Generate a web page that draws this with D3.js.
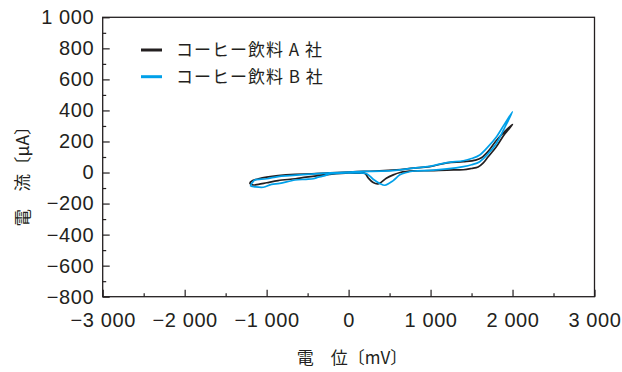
<!DOCTYPE html>
<html>
<head>
<meta charset="utf-8">
<script src="https://cdn.jsdelivr.net/npm/d3@7"></script>
<style>
  body { margin: 0; background: #fff; }
  svg text { fill: #231f20; }
</style>
</head>
<body>
<div id="container"></div>
<script>
// potential (mV) and current (uA), each loop starts at the left tip,
// runs along the upper branch to +2000 mV and back along the lower one
const potA = [-1205, -1170, -1100, -1000, -860, -650, -450, -230, 0, 180, 380, 585, 790, 990, 1200, 1400, 1550, 1620, 1700, 1800, 1900, 2000,
  1900, 1800, 1700, 1640, 1580, 1500, 1400, 1200, 1000, 800, 630, 545, 460, 400, 360, 300, 240, 200, 100, 0, -230, -370, -520, -650, -860, -1000, -1100, -1170];
const curA = [-69, -52, -41, -30, -20, -12, -9, -2, 3, 7, 10, 17, 28, 38, 62, 70, 80, 95, 135, 205, 262, 310,
  245, 165, 100, 60, 35, 26, 18, 16, 12, 10, 0, -15, -37, -62, -73, -65, -35, -6, -4, -3, -12, -20, -30, -40, -52, -66, -76, -80];

const potB = [-1195, -1170, -1143, -1000, -860, -716, -450, -230, 0, 200, 400, 600, 790, 990, 1200, 1400, 1500, 1600, 1700, 1805, 1900, 2000,
  1900, 1805, 1700, 1600, 1500, 1400, 1200, 1000, 800, 707, 626, 544, 443, 380, 300, 220, 100, 0, -230, -300, -370, -430, -520, -654, -840, -940, -1041, -1143];
const curB = [-86, -62, -48, -40, -26, -20, -10, -2, 3, 7, 9, 16, 28, 40, 64, 76, 90, 113, 165, 231, 310, 392,
  285, 189, 120, 70, 50, 38, 23, 14, 10, 0, -15, -52, -82, -70, -43, -8, -3, -2, -9, -22, -30, -40, -44, -48, -70, -76, -95, -92];

const seriesNames = ["コーヒー飲料 A 社", "コーヒー飲料 B 社"];
const seriesColors = ["#231f20", "#00a0e9"];

const xMajor = [-3000, -2000, -1000, 0, 1000, 2000, 3000];
const xMinor = [-2500, -1500, -500, 500, 1500, 2500];
const yMajor = [-800, -600, -400, -200, 0, 200, 400, 600, 800, 1000];
const yMinor = [-700, -500, -300, -100, 100, 300, 500, 700, 900];

const w = 622, h = 372;
const mLeft = 102.7, mRight = 594.5, mTop = 17.3, mBottom = 296.7;

const svg = d3.select("#container").append("svg")
  .attr("width", w).attr("height", h);

const x = d3.scaleLinear().domain([-3000, 3000]).range([mLeft, mRight]);
const y = d3.scaleLinear().domain([-800, 1000]).range([mBottom, mTop]);

// "1 000", "−3 000"
const fmt = d3.formatLocale({ decimal: ".", thousands: " ", grouping: [3], currency: ["", ""], minus: "\u2212" }).format(",d");
const tickFont = "'Liberation Sans', Arial, sans-serif";
const jpFont = "'Noto Sans CJK JP', sans-serif";

// frame
svg.append("rect")
  .attr("x", mLeft).attr("y", mTop)
  .attr("width", mRight - mLeft).attr("height", mBottom - mTop)
  .attr("fill", "none").attr("stroke", "#231f20").attr("stroke-width", 1.3);

svg.append("g")
  .attr("transform", "translate(0," + mBottom + ")")
  .call(d3.axisBottom(x).tickValues(xMajor).tickSize(-7).tickSizeOuter(0).tickPadding(16).tickFormat(fmt));
svg.append("g")
  .attr("transform", "translate(0," + mBottom + ")")
  .call(d3.axisBottom(x).tickValues(xMinor).tickSize(-3.5).tickSizeOuter(0).tickFormat(""));

svg.append("g")
  .attr("transform", "translate(" + mLeft + ",0)")
  .call(d3.axisLeft(y).tickValues(yMajor).tickSize(-7).tickSizeOuter(0).tickPadding(8.5).tickFormat(fmt));
svg.append("g")
  .attr("transform", "translate(" + mLeft + ",0)")
  .call(d3.axisLeft(y).tickValues(yMinor).tickSize(-3.5).tickSizeOuter(0).tickFormat(""));

svg.selectAll(".domain").remove();
svg.selectAll(".tick line").attr("stroke", "#231f20").attr("stroke-width", 1.2);
svg.selectAll(".tick text")
  .style("font-family", tickFont)
  .style("font-size", "20px")
  .style("letter-spacing", "0.6px")
  .attr("fill", "#231f20");

// curves
const line = d3.line()
  .x(d => x(d[0]))
  .y(d => y(d[1]))
  .curve(d3.curveCatmullRomClosed.alpha(0.5));

[[potA, curA], [potB, curB]].forEach((s, k) => {
  const pts = s[0].map((p, i) => [p, s[1][i]]);
  svg.append("path")
    .datum(pts)
    .attr("d", line)
    .attr("fill", "none")
    .attr("stroke", seriesColors[k])
    .attr("stroke-width", 1.7)
    .attr("stroke-linejoin", "round");
});

// legend
seriesNames.forEach((n, k) => {
  const ly = 50 + k * 26.7;
  svg.append("line")
    .attr("x1", 141).attr("x2", 162)
    .attr("y1", ly).attr("y2", ly)
    .attr("stroke", seriesColors[k]).attr("stroke-width", 3);
  svg.append("text")
    .attr("x", 176).attr("y", ly)
    .attr("dy", "0.36em")
    .style("font-family", jpFont)
    .style("font-size", "17px")
    .style("letter-spacing", "1px")
    .text(n);
});

// axis titles
svg.append("text")
  .attr("x", 352).attr("y", 358)
  .attr("text-anchor", "middle")
  .attr("dy", "0.36em")
  .style("font-family", jpFont)
  .style("font-size", "17px")
  .text("電　位〔mV〕");

svg.append("text")
  .attr("transform", "translate(23,172) rotate(-90)")
  .attr("text-anchor", "middle")
  .attr("dy", "0.36em")
  .style("font-family", jpFont)
  .style("font-size", "17.5px")
  .text("電　流〔μA〕");
</script>
</body>
</html>
